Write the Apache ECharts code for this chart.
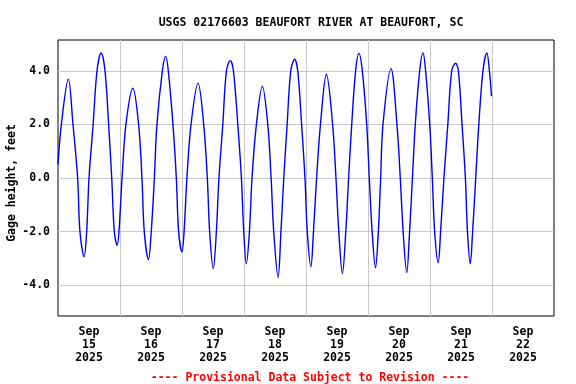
<!DOCTYPE html>
<html>
<head>
<meta charset="utf-8">
<script src="https://cdn.jsdelivr.net/npm/echarts@6/dist/echarts.min.js"></script>
<style>html,body{margin:0;padding:0;background:#fff}#c{width:576px;height:384px}</style>
</head>
<body>
<div id="c"></div>
<script>
// Hours since Sep 15 2025 00:00
var hours = [0,1.3,4.0,5.8,7.6,8.5,10.1,11.1,12.0,13.6,15.1,16.7,18.2,19.6,20.8,21.8,22.9,23.6,24.8,26.3,
  29.0,31.2,32.5,33.4,35.0,36.1,37.3,38.3,40.4,41.7,42.7,44.5,45.8,46.7,48.0,48.8,49.9,51.5,
  54.2,56.4,57.8,58.7,60.1,61.3,62.3,63.8,65.2,66.7,67.9,69.6,71.0,71.9,72.9,74.1,75.1,76.8,
  79.1,81.2,82.5,83.5,85.2,86.3,87.4,88.7,90.1,91.6,92.8,94.3,95.6,96.5,97.9,98.9,100.1,101.6,
  103.9,106.3,107.6,108.7,110.1,111.4,112.5,113.7,115.2,116.5,117.8,119.5,120.5,121.6,122.9,124.0,124.9,125.8,
  128.9,131.2,132.5,133.6,135.0,136.1,137.2,138.3,140.0,141.3,142.3,143.9,144.9,145.8,147.2,148.1,149.4,150.9,
  152.4,153.9,155.0,156.4,157.7,158.5,159.6,160.5,161.7,162.9,164.5,166.0,167.0,167.8];
var gageHeight = [0.50,2.0,3.69,2.0,0.0,-2.0,-2.94,-2.0,0.0,2.0,4.0,4.67,4.0,2.0,0.0,-2.0,-2.51,-2.0,0.0,2.0,
  3.35,2.0,0.0,-2.0,-3.04,-2.0,0.0,2.0,4.0,4.55,4.0,2.0,0.0,-2.0,-2.76,-2.0,0.0,2.0,
  3.54,2.0,0.0,-2.0,-3.38,-2.0,0.0,2.0,4.0,4.38,4.0,2.0,0.0,-2.0,-3.20,-2.0,0.0,2.0,
  3.42,2.0,0.0,-2.0,-3.71,-2.0,0.0,2.0,4.0,4.43,4.0,2.0,0.0,-2.0,-3.31,-2.0,0.0,2.0,
  3.87,2.0,0.0,-2.0,-3.57,-2.0,0.0,2.0,4.0,4.65,4.0,2.0,0.0,-2.0,-3.35,-2.0,0.0,2.0,
  4.08,2.0,0.0,-2.0,-3.53,-2.0,0.0,2.0,4.0,4.67,4.0,2.0,0.0,-2.0,-3.16,-2.0,0.0,2.0,
  4.0,4.28,4.0,2.0,0.0,-2.0,-3.20,-2.0,0.0,2.0,4.0,4.67,4.0,3.05];
var dayLabels = ['15','16','17','18','19','20','21','22'];
var monthLabel = 'Sep';
var yearLabel = '2025';
var titleText = 'USGS 02176603 BEAUFORT RIVER AT BEAUFORT, SC';
var yName = 'Gage height, feet';
var noteText = '---- Provisional Data Subject to Revision ----';

var FONT = "'DejaVu Sans Mono', 'Liberation Mono', monospace";
var data = hours.map(function (h, i) { return [h, gageHeight[i]]; });

var chart = echarts.init(document.getElementById('c'), null, {renderer: 'canvas'});
chart.setOption({
  animation: false,
  title: [
    {text: titleText, left: 306, top: 12, textAlign: 'center',
     textStyle: {fontFamily: FONT, fontWeight: 'bold', fontSize: 11.5, color: '#000'}},
    {text: noteText, left: 305, top: 367, textAlign: 'center',
     textStyle: {fontFamily: FONT, fontWeight: 'bold', fontSize: 11.5, color: '#ff0000'}}
  ],
  grid: {left: 58, right: 22, top: 40, bottom: 68, containLabel: false, outerBoundsMode: 'none',
    show: true, borderColor: '#000', borderWidth: 1, backgroundColor: 'transparent'},
  xAxis: [
    {type: 'value', min: 0, max: 192, interval: 24, position: 'bottom',
     axisLine: {show: false}, axisTick: {show: false}, axisLabel: {show: false},
     splitLine: {show: true, showMinLine: false, showMaxLine: false, lineStyle: {color: '#c8c8c8', width: 1}}},
    {type: 'value', min: 0, max: 192, interval: 12, position: 'bottom',
     axisLine: {show: false}, axisTick: {show: false}, splitLine: {show: false},
     axisLabel: {show: true, margin: 10, fontFamily: FONT, fontWeight: 'bold', fontSize: 11.5, color: '#000',
       lineHeight: 13, hideOverlap: false, showMinLabel: true, showMaxLabel: true,
       formatter: function (v) {
         if (v % 24 !== 12) return '';
         var d = Math.floor(v / 24);
         return monthLabel + '\n' + dayLabels[d] + '\n' + yearLabel;
       }}}
  ],
  yAxis: {type: 'value', min: -5.15, max: 5.15, splitNumber: 5,
    name: yName, nameLocation: 'middle', nameGap: 40, nameMoveOverlap: false,
    nameTextStyle: {fontFamily: FONT, fontWeight: 'bold', fontSize: 11.5, color: '#000', padding: [0, 10, 0, 0]},
    axisLine: {show: false}, axisTick: {show: false},
    axisLabel: {margin: 8, fontFamily: FONT, fontWeight: 'bold', fontSize: 11.5, color: '#000',
      showMinLabel: false, showMaxLabel: false,
      formatter: function (v) { return v.toFixed(1); }},
    splitLine: {show: true, showMinLine: false, showMaxLine: false, lineStyle: {color: '#c8c8c8', width: 1}}},
  series: [{type: 'line', xAxisIndex: 0, data: data, smooth: 0.35, showSymbol: false,
    lineStyle: {color: '#0000ff', width: 1.4}, clip: true}]
});
</script>
</body>
</html>
